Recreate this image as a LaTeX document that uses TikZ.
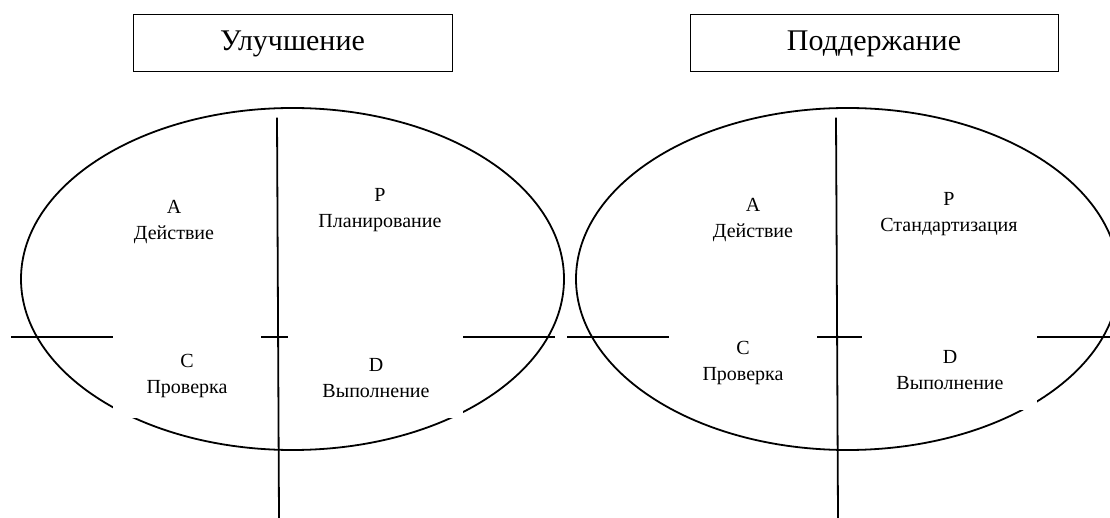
\documentclass[tikz,border=0pt]{standalone}
\usepackage{fontspec}
\setmainfont{Liberation Serif}
\begin{document}
\begin{tikzpicture}[x=1pt,y=-1pt,
  lbl/.style={font=\fontsize{20}{26}\selectfont, align=center, inner sep=0pt},
  titlebox/.style={draw, line width=1pt, font=\fontsize{30}{36}\selectfont, inner sep=0pt, minimum height=57pt},
  ln/.style={line width=1.8pt},
  cover/.style={fill=white}]
\useasboundingbox (0,0) rectangle (1110,518);
\clip (0,0) rectangle (1110,518);
% titles
\node[titlebox, minimum width=319pt] (t1) at (292.5,43.5) {Улучшение};
\node[titlebox, minimum width=368pt] (t2) at (874,43.5) {Поддержание};
% ellipses
\draw[ln] (292.5,279) ellipse [x radius=271.5pt, y radius=171pt];
\draw[ln] (847.5,279) ellipse [x radius=271.5pt, y radius=171pt];
% axes
\coordinate (v1a) at (277,117.7);
\coordinate (v1b) at (279,518);
\coordinate (v2a) at (836,117.7);
\coordinate (v2b) at (838,518);
\coordinate (h1a) at (11,337);
\coordinate (h1b) at (555,337);
\coordinate (h2a) at (567,337);
\coordinate (h2b) at (1112,337);
\draw[ln] (h1a) -- (h1b);
\draw[ln] (h2a) -- (h2b);
% white text boxes covering parts
\fill[cover] (113,330) rectangle (261,418);
\fill[cover] (288,330) rectangle (463,418);
\fill[cover] (669,330) rectangle (817,400);
\fill[cover] (862,330) rectangle (1037,410);
\draw[ln] (v1a) -- (v1b);
\draw[ln] (v2a) -- (v2b);
% labels
\node[lbl] (a1) at (174,222) {A\\Действие};
\node[lbl] (p1) at (380,210) {P\\Планирование};
\node[lbl] (c1) at (187,376) {C\\Проверка};
\node[lbl] (d1) at (376,378.5) {D\\Выполнение};
\node[lbl] (a2) at (753,220) {A\\Действие};
\node[lbl] (p2) at (949,214) {P\\Стандартизация};
\node[lbl] (c2) at (743,363) {C\\Проверка};
\node[lbl] (d2) at (950,370) {D\\Выполнение};
\end{tikzpicture}
\end{document}
